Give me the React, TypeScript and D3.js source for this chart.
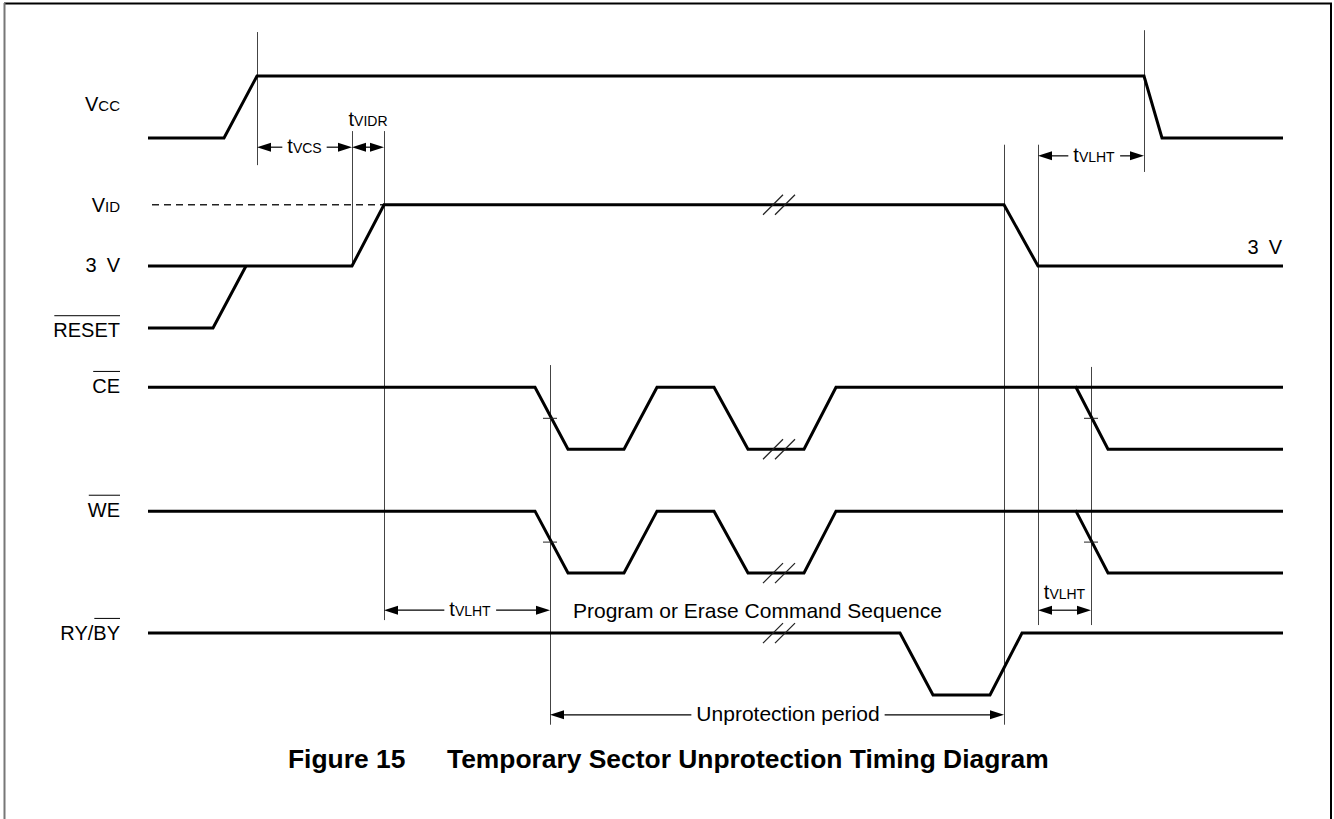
import { useEffect, useRef } from 'react';
import * as d3 from 'd3';

const width = 1334;
const height = 819;

// time runs in arbitrary units along x, signal levels are "lanes" along y
const vccWave = [[0, 1], [76, 1], [109, 0], [996, 0], [1014, 1], [1135, 1]];
const vidWave = [[0, 3.07], [204, 3.07], [236, 2.08], [856, 2.08], [890, 3.07], [1135, 3.07]];
const resetWave = [[0, 4.07], [65, 4.07], [98, 3.07]];
const ceWave = [[0, 5.03], [387, 5.03], [420, 6.03], [476, 6.03], [509, 5.03], [566, 5.03], [600, 6.03], [656, 6.03], [688, 5.03], [928, 5.03], [960, 6.03], [1135, 6.03]];
const ceHold = [[928, 5.03], [1135, 5.03]];
const weWave = [[0, 7.03], [387, 7.03], [420, 8.03], [476, 8.03], [509, 7.03], [566, 7.03], [600, 8.03], [656, 8.03], [688, 7.03], [928, 7.03], [960, 8.03], [1135, 8.03]];
const weHold = [[928, 7.03], [1135, 7.03]];
const rybyWave = [[0, 9], [752, 9], [785, 10], [842, 10], [874, 9], [1135, 9]];
const vidDashed = [[4, 2.08], [236, 2.08]];

// vertical reference lines
const markerTimes = [109, 204, 236, 402, 856, 890, 943, 996];
const markerTop = [-0.71, 0.89, 0.89, 4.67, 1.11, 1.11, 4.7, -0.74];
const markerBottom = [1.44, 3.07, 8.79, 10.48, 10.48, 8.87, 8.87, 1.55];

// dimension arrows
const dimFrom = [109, 204, 890, 236, 890, 402];
const dimTo = [204, 236, 996, 402, 943, 856];
const dimLevel = [1.15, 1.15, 1.29, 8.63, 8.63, 10.32];
const dimMain = ['t', 't', 't', 't', 't', 'Unprotection period'];
const dimSub = ['VCS', 'VIDR', 'VLHT', 'VLHT', 'VLHT', ''];
const dimInline = [true, false, true, true, false, true];
const dimLabelLevel = [0, 0.81, 0, 0, 8.45, 0];
const dimShift = [0, 0, 3, 3, 0, 11];

const breakTimes = [631, 631, 631, 631];
const breakLevels = [2.08, 6.03, 8.03, 9.0];

const tickTimes = [402, 402, 943, 943];
const tickLevels = [5.53, 7.53, 5.53, 7.53];

// left-hand labels
const labelMain = ['V', 'V', '3\u2002V', 'RESET', 'CE', 'WE', 'BY'];
const labelSub = ['CC', 'ID', '', '', '', '', ''];
const labelLevels = [0.57, 2.2, 3.17, 4.22, 5.12, 7.12, 9.11];
const labelBar = [false, false, false, true, true, true, true];

const font = "'Liberation Sans', Arial, Helvetica, sans-serif";

const App = () => {
  const ref = useRef<SVGSVGElement>(null);

  useEffect(() => {
    const svg = d3.select(ref.current);
    svg.selectAll('*').remove();

    const x = d3.scaleLinear().domain([0, 1135]).range([148, 1283]);
    const y = d3.scaleLinear().domain([0, 10]).range([76, 695]);
    const line = d3.line<number[]>().x(d => x(d[0])).y(d => y(d[1]));

    // frame
    svg.append('line').attr('x1', 4).attr('x2', 1332).attr('y1', 3.5).attr('y2', 3.5)
      .attr('stroke', '#000').attr('stroke-width', 2);
    svg.append('line').attr('x1', 1331).attr('x2', 1331).attr('y1', 3).attr('y2', height)
      .attr('stroke', '#000').attr('stroke-width', 2);
    svg.append('line').attr('x1', 4.5).attr('x2', 4.5).attr('y1', 3).attr('y2', height)
      .attr('stroke', '#777').attr('stroke-width', 2);

    // vertical markers
    svg.append('g').selectAll('line').data(markerTimes).join('line')
      .attr('x1', d => Math.round(x(d)) + 0.5).attr('x2', d => Math.round(x(d)) + 0.5)
      .attr('y1', (d, i) => y(markerTop[i])).attr('y2', (d, i) => y(markerBottom[i]))
      .attr('stroke', '#444').attr('stroke-width', 1);

    // dashed VID reference
    svg.append('path').attr('d', line(vidDashed)).attr('fill', 'none')
      .attr('stroke', '#222').attr('stroke-width', 1.5).attr('stroke-dasharray', '7,5');

    // waveforms
    const waves = [vccWave, vidWave, resetWave, ceWave, ceHold, weWave, weHold, rybyWave];
    svg.append('g').selectAll('path').data(waves).join('path')
      .attr('d', d => line(d))
      .attr('fill', 'none').attr('stroke', '#000').attr('stroke-width', 3)
      .attr('stroke-linejoin', 'miter');

    // ramp ticks
    svg.append('g').selectAll('line').data(tickTimes).join('line')
      .attr('x1', d => x(d) - 7).attr('x2', d => x(d) + 7)
      .attr('y1', (d, i) => y(tickLevels[i])).attr('y2', (d, i) => y(tickLevels[i]))
      .attr('stroke', '#222').attr('stroke-width', 1);

    // break marks
    const br = svg.append('g');
    breakTimes.forEach((t, i) => {
      const cx = x(t), cy = y(breakLevels[i]);
      [-6, 6].forEach(o => {
        br.append('line')
          .attr('x1', cx + o - 10).attr('y1', cy + 10)
          .attr('x2', cx + o + 10).attr('y2', cy - 10)
          .attr('stroke', '#222').attr('stroke-width', 1.2);
      });
    });

    // dimension arrows
    const arrowHead = (g, tip, yy, dir) => {
      g.append('path')
        .attr('d', `M${tip},${yy}L${tip + dir * 14},${yy - 4.5}L${tip + dir * 14},${yy + 4.5}Z`)
        .attr('fill', '#000');
    };
    const dims = svg.append('g');
    dimFrom.forEach((t0, i) => {
      const x0 = x(t0), x1 = x(dimTo[i]), yy = y(dimLevel[i]);
      arrowHead(dims, x0, yy, 1);
      arrowHead(dims, x1, yy, -1);
      const cx = (x0 + x1) / 2 + dimShift[i];
      const txt = dims.append('text')
        .attr('x', cx)
        .attr('y', dimInline[i] ? yy + 6 : y(dimLabelLevel[i]))
        .attr('text-anchor', 'middle')
        .attr('font-family', font);
      const isWord = dimSub[i] === '';
      txt.append('tspan').text(dimMain[i]).attr('font-size', isWord ? 21 : 20);
      if (!isWord) txt.append('tspan').text(dimSub[i]).attr('font-size', 14);
      if (dimInline[i]) {
        const bb = (txt.node() as SVGTextElement).getBBox();
        dims.append('line').attr('x1', x0 + 12).attr('x2', bb.x - 5).attr('y1', yy).attr('y2', yy)
          .attr('stroke', '#000').attr('stroke-width', 1.2);
        dims.append('line').attr('x1', bb.x + bb.width + 5).attr('x2', x1 - 12).attr('y1', yy).attr('y2', yy)
          .attr('stroke', '#000').attr('stroke-width', 1.2);
      } else if (x1 - x0 > 28) {
        dims.append('line').attr('x1', x0 + 12).attr('x2', x1 - 12).attr('y1', yy).attr('y2', yy)
          .attr('stroke', '#000').attr('stroke-width', 1.2);
      }
    });

    // left labels
    const lab = svg.append('g').attr('font-family', font).attr('fill', '#000');
    labelMain.forEach((m, i) => {
      const t = lab.append('text')
        .attr('x', x(0) - 28).attr('y', y(labelLevels[i]))
        .attr('text-anchor', 'end');
      t.append('tspan').text(m).attr('font-size', 20);
      if (labelSub[i]) t.append('tspan').text(labelSub[i]).attr('font-size', 15);
      if (labelBar[i]) {
        const bb = (t.node() as SVGTextElement).getBBox();
        lab.append('line')
          .attr('x1', bb.x + 1).attr('x2', bb.x + bb.width)
          .attr('y1', y(labelLevels[i]) - 21.5).attr('y2', y(labelLevels[i]) - 21.5)
          .attr('stroke', '#000').attr('stroke-width', 1);
        if (m === 'BY') {
          lab.append('text')
            .attr('x', bb.x).attr('y', y(labelLevels[i]))
            .attr('text-anchor', 'end').attr('font-size', 20)
            .text('RY/');
        }
      }
    });

    // right "3 V"
    lab.append('text').attr('x', x(1134)).attr('y', y(2.88))
      .attr('text-anchor', 'end').attr('font-size', 20).text('3\u2002V');

    // command sequence text
    lab.append('text').attr('x', x(425)).attr('y', y(8.76))
      .attr('font-size', 21).text('Program or Erase Command Sequence');

    // caption
    const cap = svg.append('g').attr('font-family', font).attr('font-weight', 'bold').attr('font-size', 26.4);
    cap.append('text').attr('x', 288).attr('y', 768).text('Figure 15');
    cap.append('text').attr('x', 447).attr('y', 768).text('Temporary Sector Unprotection Timing Diagram');
  }, []);

  return (
    <svg
      ref={ref}
      width={width}
      height={height}
      style={{ position: 'absolute', left: 0, top: 0, background: '#fff' }}
    />
  );
};

export default App;
